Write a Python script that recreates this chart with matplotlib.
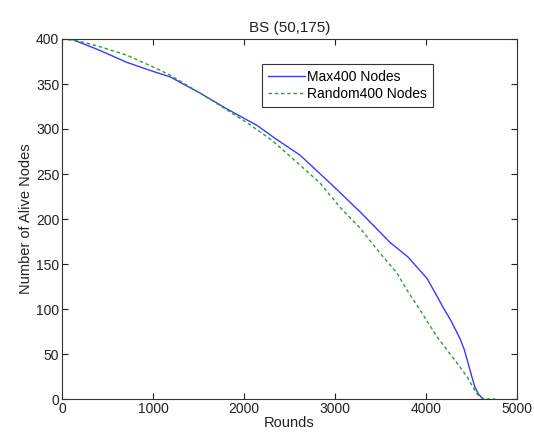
import matplotlib
matplotlib.use('Agg')
import matplotlib.pyplot as plt

plt.rcParams['font.family'] = ['Liberation Sans', 'DejaVu Sans']

# values
max_rounds = [0, 100, 400, 714, 1000, 1187, 1350, 1516, 1800, 2143, 2350,
              2615, 2945, 3275, 3450, 3604, 3800, 4011, 4100, 4187, 4280,
              4374, 4420, 4462, 4500, 4538, 4580, 4610, 4630]
max_alive = [400, 400, 388, 374, 364, 358, 349, 340, 323, 304, 289,
             271, 240, 208, 190, 174, 158, 134, 118, 102, 86,
             67, 55, 40, 26, 13, 5, 2, 0]

rand_rounds = [0, 165, 400, 714, 1000, 1187, 1516, 1800, 2033, 2300, 2615,
               2835, 3055, 3275, 3495, 3681, 3791, 3934, 4121, 4341, 4450,
               4516, 4560, 4593, 4650, 4760]
rand_alive = [400, 398, 392, 382, 369, 360, 340, 322, 307, 288, 260,
              240, 213, 190, 162, 140, 121, 99, 69, 40, 25,
              13, 6, 2, 0, 0]

fig = plt.figure(figsize=(5.34, 4.36), dpi=100)
ax = fig.add_axes([62 / 534, 1 - 399 / 436, 455 / 534, 360 / 436])

ax.plot(max_rounds, max_alive, color='#3a3aff', lw=1.0, label='Max400 Nodes')
ax.plot(rand_rounds, rand_alive, color='#2e9e2e', lw=1.0, ls=(0, (2.5, 2)),
        label='Random400 Nodes')

ax.set_xlim(0, 5000)
ax.set_ylim(0, 400)
ax.set_xticks(range(0, 5001, 1000))
ax.set_yticks(range(0, 401, 50))
ax.tick_params(direction='in', length=4, width=0.8, top=True, right=True,
               labelsize=10, colors='#222222', pad=2)
for s in ax.spines.values():
    s.set_color('#333333')
    s.set_linewidth(0.8)

ax.set_title('BS (50,175)', fontsize=11, pad=5, color='#222222')
ax.set_xlabel('Rounds', fontsize=10.5, labelpad=0, color='#222222')
ax.set_ylabel('Number of Alive Nodes', fontsize=10.5, labelpad=2,
              color='#222222')

leg = ax.legend(loc='upper left', bbox_to_anchor=(0.44, 0.93), fontsize=10,
                fancybox=False, framealpha=1, edgecolor='#333333',
                handlelength=2.7, borderpad=0.4, labelspacing=0.25,
                handletextpad=0.15, borderaxespad=0)
leg.get_frame().set_linewidth(0.8)

fig.savefig('out.png', dpi=100)
